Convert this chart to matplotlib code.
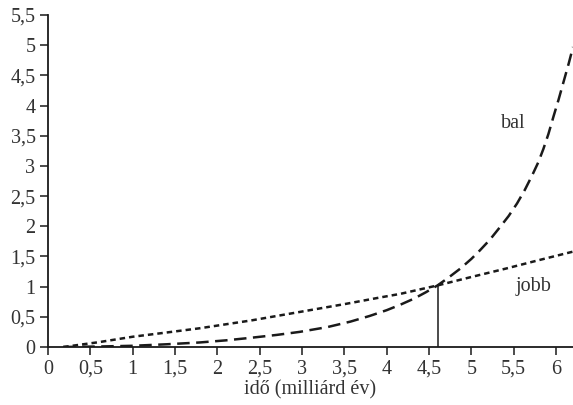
import matplotlib
matplotlib.use("Agg")
import matplotlib.pyplot as plt
from matplotlib.ticker import FuncFormatter

# Data
bal_x = [0.18, 0.6, 1.0, 1.4, 1.79, 2.1, 2.38, 2.7, 2.97, 3.3, 3.57, 3.8, 4.0, 4.16, 4.32, 4.46, 4.6,
         4.73, 4.87, 5.0, 5.1, 5.22, 5.34, 5.44, 5.54, 5.63, 5.72, 5.79, 5.85, 5.91, 5.97, 6.03,
         6.09, 6.15, 6.2]
bal_y = [0.0, 0.008, 0.02, 0.045, 0.075, 0.11, 0.15, 0.2, 0.25, 0.33, 0.42, 0.515, 0.61, 0.7, 0.8,
         0.905, 1.02, 1.15, 1.30, 1.46, 1.6, 1.78, 1.99, 2.17, 2.38, 2.6, 2.85, 3.06, 3.28, 3.53,
         3.82, 4.1, 4.4, 4.7, 4.97]
jobb_x = [0.18, 0.6, 1.0, 1.4, 1.79, 2.4, 2.97, 3.5, 3.92, 4.16, 4.6, 5.0, 5.41, 5.8, 6.2]
jobb_y = [0.0, 0.08, 0.17, 0.24, 0.31, 0.44, 0.58, 0.71, 0.82, 0.88, 1.02, 1.16, 1.30, 1.44, 1.58]
cross_x = 4.6
cross_y = 1.02
x_ticks = [0, 0.5, 1, 1.5, 2, 2.5, 3, 3.5, 4, 4.5, 5, 5.5, 6]
y_ticks = [0, 0.5, 1, 1.5, 2, 2.5, 3, 3.5, 4, 4.5, 5, 5.5]
x_label = "idő (milliárd év)"

plt.rcParams['font.family'] = ['Liberation Serif', 'DejaVu Serif']

fig = plt.figure(figsize=(5.73, 4.05), dpi=100)
ax = fig.add_axes([48/573, 1-347/405, 525/573, (347-15)/405])

lc = '#1a1a1a'
tc = '#333333'
ax.plot(bal_x, bal_y, color=lc, lw=1.8, dashes=(5, 2.6))
ax.plot(jobb_x, jobb_y, color=lc, lw=1.8, dashes=(2.2, 1.6))
ax.plot([cross_x, cross_x], [0, cross_y], color=lc, lw=1.1)

ax.set_xlim(0, 6.2)
ax.set_ylim(0, 5.5)
ax.set_xticks(x_ticks)
ax.set_yticks(y_ticks)
fmt = FuncFormatter(lambda v, p: ('%g' % v).replace('.', ','))
ax.xaxis.set_major_formatter(fmt)
ax.yaxis.set_major_formatter(fmt)

for s in ['top', 'right']:
    ax.spines[s].set_visible(False)
for s in ['left', 'bottom']:
    ax.spines[s].set_linewidth(1.3)
    ax.spines[s].set_color(lc)
ax.tick_params(axis='both', direction='out', length=6, width=1.1, color=lc,
               labelsize=14.5, labelcolor=tc, pad=3)

ax.set_xlabel(x_label, fontsize=14.5, color=tc, labelpad=1)

ax.text(5.5, 3.71, "bal", fontsize=14.5, color=tc, ha='center', va='center')
ax.text(5.73, 1.01, "jobb", fontsize=14.5, color=tc, ha='center', va='center')

fig.savefig("out.png", dpi=100)
